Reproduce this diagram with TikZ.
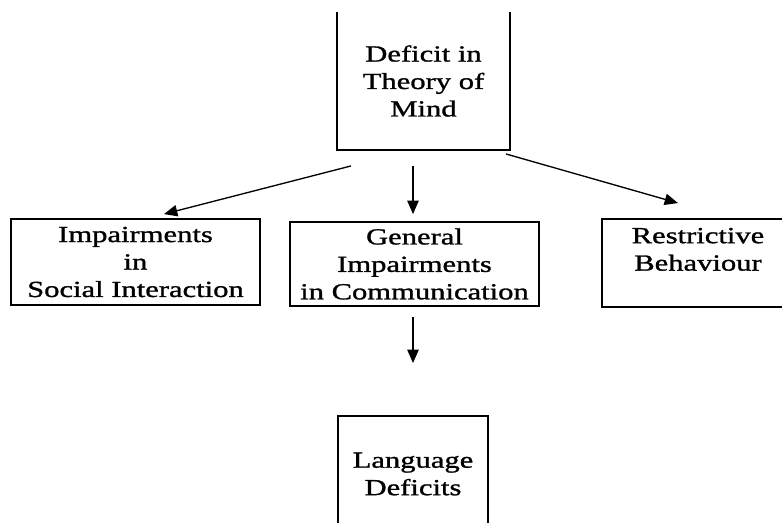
\documentclass[tikz,border=0pt]{standalone}
\usepackage{fontspec}
\setmainfont[FakeStretch=1.33, FakeBold=1.2]{Liberation Serif}
\usetikzlibrary{arrows.meta,calc}
\newcommand{\boxFont}[0]{\fontsize{17.25}{20.6}\selectfont}

\begin{document}
\begin{tikzpicture}[x=0.75pt, y=-0.75pt]
  \tikzset{
    deficit box/.style={draw, line width=1.4pt, align=center, font=\boxFont, inner sep=0pt},
    deficit arrow/.style={-{Triangle[length=10pt,width=8.5pt]}, line width=1pt}
  }
  \useasboundingbox (0,0) rectangle (782,522);
  \clip (0,0) rectangle (782,522);
  \node[deficit box, draw=none, minimum width=128.25pt, minimum height=102pt] (ToM) at (423.5,81)
    {Deficit in\\Theory of\\Mind};
  \draw[line width=1.4pt] (ToM.north west) -- (ToM.south west) -- (ToM.south east) -- (ToM.north east);
  \node[deficit box, minimum width=186.75pt, minimum height=64.5pt] (Social) at (135.5,262)
    {Impairments\\in\\Social Interaction};
  \node[deficit box, minimum width=186.75pt, minimum height=63pt] (Comm) at (414.5,264)
    {General\\Impairments\\in Communication};
  \node[deficit box, minimum width=144pt, minimum height=66pt] (Behav) at (698,263)
    {Restrictive\\Behaviour\\~};
  \node[deficit box, minimum width=112.5pt, minimum height=87pt] (Lang) at (413,474)
    {Language\\Deficits};
  \draw[deficit arrow] ($(ToM.south west)+(14,16)$) -- ($(Social.north)+(28.5,-4)$);
  \draw[deficit arrow] ($(ToM.south)+(-10.5,16)$) -- ($(Comm.north)+(-1.5,-7)$);
  \draw[deficit arrow] ($(ToM.south east)+(-4,4)$) -- ($(Behav.north)+(-20,-15)$);
  \draw[deficit arrow] ($(Comm.south)+(-1.5,10)$) -- ($(Lang.north)+(0,-52)$);
\end{tikzpicture}
\end{document}
